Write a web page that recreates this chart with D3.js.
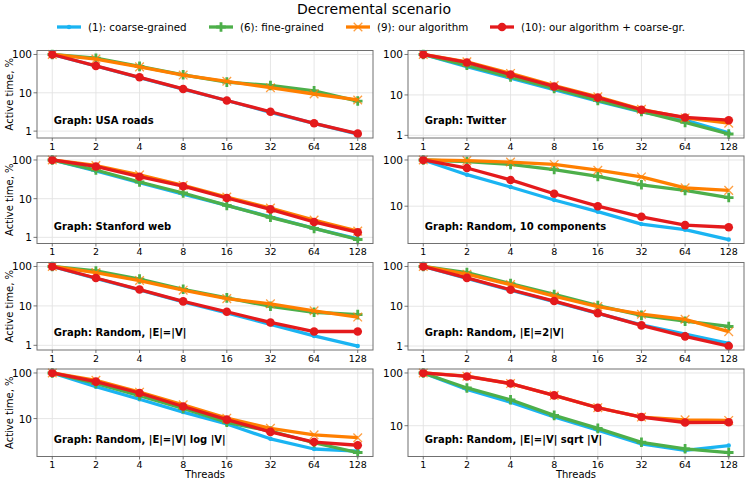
<!DOCTYPE html>
<html>
<head>
<meta charset="utf-8">
<script src="https://cdn.jsdelivr.net/npm/d3@7"></script>
<style>
  html, body { margin: 0; padding: 0; background: #fff; }
  svg { display: block; font-family: "DejaVu Sans", sans-serif; }
</style>
</head>
<body>
<svg id="chart" width="748" height="482"></svg>
<script>
// ---------------- data ----------------
const threads = [1, 2, 4, 8, 16, 32, 64, 128];
const threadLabels = ["1", "2", "4", "8", "16", "32", "64", "128"];
const yTickValues = [1, 10, 100];
const yTickLabels = ["1", "10", "100"];

const panelNames = [
  "Graph: USA roads",
  "Graph: Twitter",
  "Graph: Stanford web",
  "Graph: Random, 10 components",
  "Graph: Random, |E|=|V|",
  "Graph: Random, |E|=2|V|",
  "Graph: Random, |E|=|V| log |V|",
  "Graph: Random, |E|=|V| sqrt |V|"
];

const seriesNames = [
  "(1): coarse-grained",
  "(6): fine-grained",
  "(9): our algorithm",
  "(10): our algorithm + coarse-gr."
];

// (1) coarse-grained, one row per panel
const coarseGrained = [
  [100, 50, 25, 12.5, 6.3, 3.1, 1.6, 0.84],
  [100, 50, 26, 13.5, 7, 3.8, 2.4, 1.15],
  [100, 52, 26, 13, 6.7, 3.4, 1.7, 0.92],
  [100, 48, 26, 13.6, 7.6, 4.1, 3.1, 1.9],
  [100, 50, 25.5, 12.7, 6.6, 3.4, 1.73, 0.96],
  [100, 50, 25.5, 13, 6.6, 3.4, 2.0, 1.17],
  [100, 50, 26.5, 13.9, 7.6, 3.6, 2.15, 1.94],
  [100, 48.6, 28, 14.6, 8.2, 4.5, 3.4, 4.2]
];
// (6) fine-grained
const fineGrained = [
  [100, 80, 49, 29.5, 19, 15.5, 11.2, 6.1],
  [100, 54, 28, 14.5, 7.3, 3.9, 2.1, 1.08],
  [100, 55, 27, 14, 6.7, 3.3, 1.7, 0.88],
  [100, 92, 80, 62, 44, 29, 22, 15.4],
  [100, 77, 48, 26.4, 16, 9.8, 6.9, 6],
  [100, 70, 37, 19.8, 10.4, 5.9, 4.2, 3.1],
  [100, 59, 32, 16.6, 8.3, 5.3, 2.95, 1.8],
  [100, 52, 31, 15.7, 8.9, 4.85, 3.65, 3.1]
];
// (9) our algorithm
const ourAlgorithm = [
  [100, 76, 47.5, 29, 20, 13.6, 9.3, 6.5],
  [100, 66, 34, 17, 9, 4.4, 2.7, 2.0],
  [100, 72, 41, 22, 11, 5.7, 2.8, 1.45],
  [100, 97, 90, 80, 60, 43, 25, 22],
  [100, 70, 44, 25, 15.3, 11.3, 7.5, 5.2],
  [100, 64, 35, 18, 9.8, 6.3, 4.7, 2.3],
  [100, 69, 38, 20, 10.2, 6.1, 4.4, 3.8],
  [100, 87, 63, 37.6, 22, 14.6, 12.9, 12.6]
];
// (10) our algorithm + coarse-grained
const ourPlusCoarse = [
  [100, 50.4, 25.4, 12.6, 6.3, 3.2, 1.6, 0.86],
  [100, 63.5, 32, 16.2, 8.6, 4.3, 2.77, 2.37],
  [100, 68, 37, 21, 10.4, 5.3, 2.5, 1.35],
  [100, 67, 37, 18.6, 10, 5.9, 3.9, 3.5],
  [100, 51, 26, 13, 7.1, 3.8, 2.24, 2.24],
  [100, 51.6, 26, 13.5, 6.7, 3.3, 1.75, 1.0],
  [100, 64.6, 36.4, 18.4, 9.5, 5.1, 3.05, 2.6],
  [100, 86, 63, 37.6, 21.9, 14.6, 11.5, 11.6]
];

// ---------------- styles ----------------
const colors = ["#1ab4f2", "#4daf4a", "#ff7f00", "#e41a1c"];
const markers = ["dot", "plus", "x", "circle"];
const allSeries = [coarseGrained, fineGrained, ourAlgorithm, ourPlusCoarse];

const svg = d3.select("#chart");
const colX = [[37, 373], [408, 744]];
const rowTop = [50.5, 156, 262.5, 369];
const panelH = 87.5;

function drawMarker(g, type, color, cx, cy) {
  if (type === "dot") {
    g.append("circle").attr("cx", cx).attr("cy", cy).attr("r", 2.2).attr("fill", color);
  } else if (type === "circle") {
    g.append("circle").attr("cx", cx).attr("cy", cy).attr("r", 4.3).attr("fill", color);
  } else if (type === "plus") {
    const s = 4.8;
    g.append("path")
      .attr("d", `M${cx - s},${cy}H${cx + s}M${cx},${cy - s}V${cy + s}`)
      .attr("stroke", color).attr("stroke-width", 2.8).attr("fill", "none");
  } else if (type === "x") {
    const s = 4.3;
    g.append("path")
      .attr("d", `M${cx - s},${cy - s}L${cx + s},${cy + s}M${cx - s},${cy + s}L${cx + s},${cy - s}`)
      .attr("stroke", color).attr("stroke-width", 1.3).attr("fill", "none").attr("opacity", 0.75);
  }
}

// ---------------- title & legend ----------------
svg.append("text").attr("x", 374).attr("y", 13.8).attr("text-anchor", "middle")
  .attr("font-size", 14).text("Decremental scenario");

const legendX = [57, 209, 346, 490];
const legendY = 27;
seriesNames.forEach((name, i) => {
  const g = svg.append("g");
  g.append("line").attr("x1", legendX[i]).attr("x2", legendX[i] + 24)
    .attr("y1", legendY).attr("y2", legendY)
    .attr("stroke", colors[i]).attr("stroke-width", 3.3);
  drawMarker(g, markers[i], colors[i], legendX[i] + 12, legendY);
  g.append("text").attr("x", legendX[i] + 31).attr("y", legendY)
    .attr("dominant-baseline", "central").attr("font-size", 10.3).text(name);
});

// ---------------- panels ----------------
panelNames.forEach((pname, p) => {
  const col = p % 2, row = Math.floor(p / 2);
  const [x0, x1] = colX[col];
  const y0 = rowTop[row], y1 = y0 + panelH;

  const x = d3.scaleLog().base(2)
    .domain([Math.pow(2, -0.35), Math.pow(2, 7.35)])
    .range([x0, x1]);

  const vals = allSeries.flatMap(s => s[p]);
  const lmin = Math.log10(d3.min(vals)), lmax = Math.log10(d3.max(vals));
  const pad = (lmax - lmin) * 0.05;
  const y = d3.scaleLog()
    .domain([Math.pow(10, lmin - pad), Math.pow(10, lmax + pad)])
    .range([y1, y0]);

  const g = svg.append("g");

  // grid
  threads.forEach(t => {
    g.append("line").attr("x1", x(t)).attr("x2", x(t)).attr("y1", y0).attr("y2", y1)
      .attr("stroke", "#e3e3e3").attr("stroke-width", 0.9);
  });
  const [dmin, dmax] = y.domain();
  const yTicks = yTickValues.filter(v => v >= dmin && v <= dmax);
  yTicks.forEach(v => {
    g.append("line").attr("x1", x0).attr("x2", x1).attr("y1", y(v)).attr("y2", y(v))
      .attr("stroke", "#e3e3e3").attr("stroke-width", 0.9);
  });

  // series
  allSeries.forEach((s, si) => {
    const data = s[p].map((v, i) => [threads[i], v]);
    const line = d3.line().x(d => x(d[0])).y(d => y(d[1]));
    const sg = g.append("g");
    sg.append("path").attr("d", line(data)).attr("fill", "none")
      .attr("stroke", colors[si]).attr("stroke-width", 3.3)
      .attr("stroke-linejoin", "round").attr("stroke-linecap", "butt");
    data.forEach(d => drawMarker(sg, markers[si], colors[si], x(d[0]), y(d[1])));
  });

  // frame
  g.append("rect").attr("x", x0).attr("y", y0).attr("width", x1 - x0).attr("height", panelH)
    .attr("fill", "none").attr("stroke", "#707070").attr("stroke-width", 1);

  // x ticks & labels
  threads.forEach((t, i) => {
    g.append("line").attr("x1", x(t)).attr("x2", x(t)).attr("y1", y1).attr("y2", y1 + 3)
      .attr("stroke", "#555").attr("stroke-width", 0.8);
    g.append("text").attr("x", x(t)).attr("y", y1 + 8)
      .attr("text-anchor", "middle").attr("dominant-baseline", "central")
      .attr("font-size", 9.5).text(threadLabels[i]);
  });

  // y ticks & labels
  yTicks.forEach(v => {
    g.append("line").attr("x1", x0 - 3.5).attr("x2", x0).attr("y1", y(v)).attr("y2", y(v))
      .attr("stroke", "#555").attr("stroke-width", 0.8);
    g.append("text").attr("x", x0 - 5).attr("y", y(v))
      .attr("text-anchor", "end").attr("dominant-baseline", "central")
      .attr("font-size", 10.5).text(yTickLabels[yTickValues.indexOf(v)]);
  });

  // panel label
  g.append("text").attr("x", x0 + 0.05 * (x1 - x0)).attr("y", y1 - 0.2 * panelH)
    .attr("dominant-baseline", "central").attr("font-size", 10).attr("font-weight", "bold")
    .text(pname);

  // y axis label (left column)
  if (col === 0) {
    const cy = (y0 + y1) / 2;
    g.append("text").attr("transform", `translate(9,${cy}) rotate(-90)`)
      .attr("text-anchor", "middle").attr("dominant-baseline", "central")
      .attr("font-size", 10).text("Active time, %");
  }
  // x axis label (bottom row)
  if (row === 3) {
    g.append("text").attr("x", (x0 + x1) / 2).attr("y", y1 + 18)
      .attr("text-anchor", "middle").attr("dominant-baseline", "central")
      .attr("font-size", 10).text("Threads");
  }
});
</script>
</body>
</html>
